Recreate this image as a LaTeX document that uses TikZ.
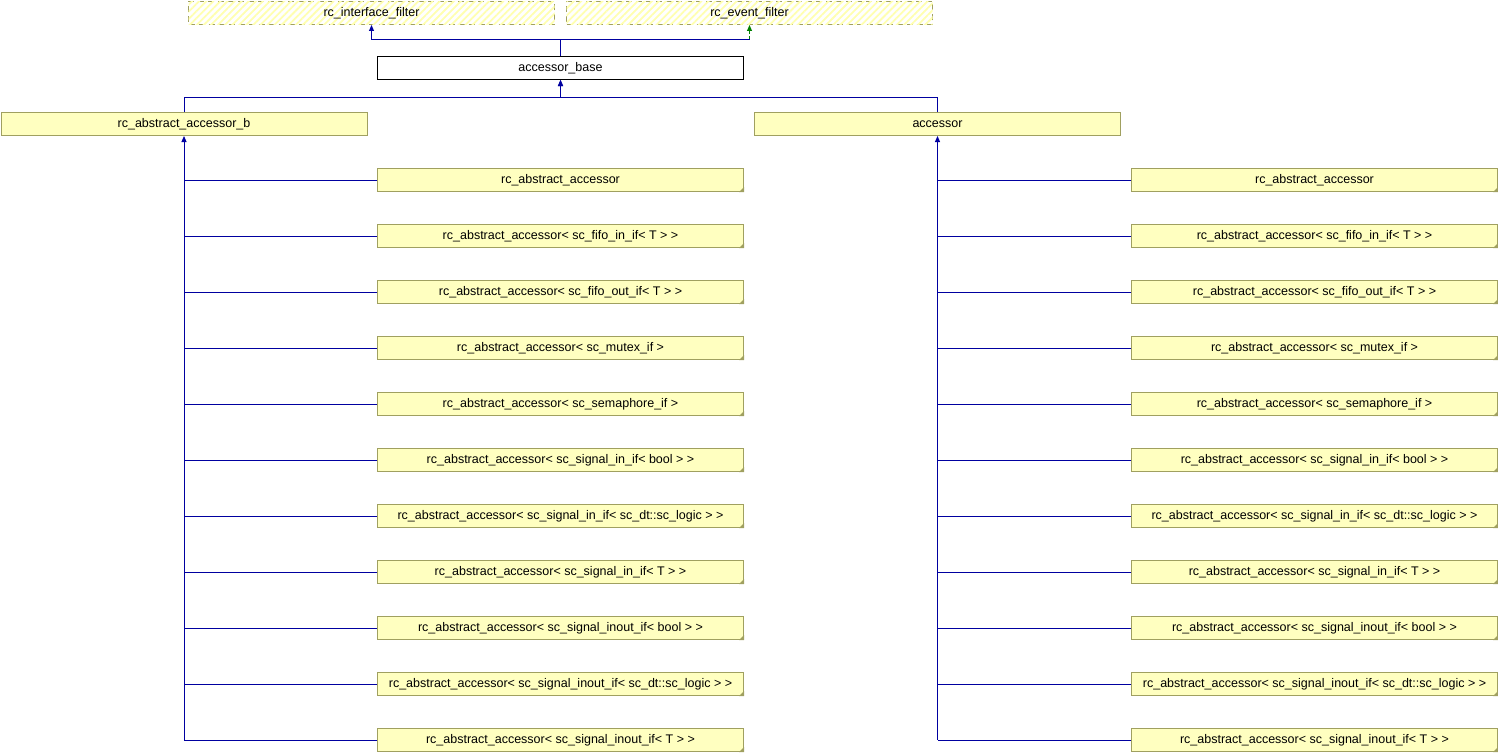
\documentclass[tikz,border=0pt]{standalone}
\usepackage{fontspec}
\setmainfont{Liberation Sans}
\usepackage{xcolor}
\usepackage{tikz}
\usetikzlibrary{arrows.meta, patterns.meta, positioning}

\definecolor{boxfill}{HTML}{FFFFC0}
\definecolor{boxline}{HTML}{A0A060}
\definecolor{edgeblue}{HTML}{0000A0}
\definecolor{edgegreen}{HTML}{008000}
\definecolor{hatchy}{HTML}{FFFFB0}

\begin{document}
\begin{tikzpicture}[
    x=1pt, y=-1pt,
    cls/.style={rectangle, draw=boxline, fill=boxfill, line width=1pt, minimum width=366pt, minimum height=23pt, anchor=north west, inner sep=0pt, font=\fontsize{12.5}{14}\selectfont},
    basebox/.style={cls, draw=black, fill=white},
    extbox/.style={cls, draw=boxline, dash pattern=on 6pt off 4pt, fill=white, postaction={pattern={Lines[angle=45, distance=5pt, line width=1.8pt]}, pattern color=hatchy}},
    inh/.style={-{Triangle[length=6pt, width=5pt]}, edgeblue, line width=1pt},
    inhline/.style={edgeblue, line width=1pt},
    uses/.style={-{Triangle[length=6pt, width=5pt]}, edgegreen, line width=1pt, dash pattern=on 3pt off 2pt}
]
\useasboundingbox (0,0) rectangle (1498,752);

% External base classes (top)
\node[extbox] (ifilt) at (188,1) {rc\_interface\_filter};
\node[extbox] (efilt) at (566,1) {rc\_event\_filter};

% Base class
\node[basebox] (base) at (377,56) {accessor\_base};

% Derived classes
\node[cls] (absb) at (0.5,112) {rc\_abstract\_accessor\_b};
\node[cls] (acc) at (754,112) {accessor};

% Template instances, one column under each derived class
\foreach \lbl [count=\i] in {
    rc\_abstract\_accessor,
    rc\_abstract\_accessor< sc\_fifo\_in\_if< T > >,
    rc\_abstract\_accessor< sc\_fifo\_out\_if< T > >,
    rc\_abstract\_accessor< sc\_mutex\_if >,
    rc\_abstract\_accessor< sc\_semaphore\_if >,
    rc\_abstract\_accessor< sc\_signal\_in\_if< bool > >,
    rc\_abstract\_accessor< sc\_signal\_in\_if< sc\_dt::sc\_logic > >,
    rc\_abstract\_accessor< sc\_signal\_in\_if< T > >,
    rc\_abstract\_accessor< sc\_signal\_inout\_if< bool > >,
    rc\_abstract\_accessor< sc\_signal\_inout\_if< sc\_dt::sc\_logic > >,
    rc\_abstract\_accessor< sc\_signal\_inout\_if< T > >}
{
    \node[cls] (lk\i) at (377,112+56*\i) {\lbl};
    \node[cls] (rk\i) at (1131,112+56*\i) {\lbl};
    \fill[boxline] (lk\i.south east) -- ([xshift=-5pt]lk\i.south east) -- ([yshift=5pt]lk\i.south east) -- cycle;
    \fill[boxline] (rk\i.south east) -- ([xshift=-5pt]rk\i.south east) -- ([yshift=5pt]rk\i.south east) -- cycle;
    \draw[inhline] (lk\i.west) -- (lk\i.west -| absb.south);
    \draw[inhline] (rk\i.west) -- (rk\i.west -| acc.south);
}

% Inheritance arrows
\coordinate (hub) at ([yshift=16pt]base.north);
\coordinate (mid) at ([yshift=-17pt]base.south);
\draw[uses] (hub) -| (efilt.south);
\draw[inhline] (hub) -- (efilt.south |- hub);
\draw[inh] (base.north) -- (hub) -| (ifilt.south);
\draw[inh] (absb.north) |- (mid) -- (base.south);
\draw[inh] (acc.north) |- (mid) -- (base.south);
\draw[inh] (lk11.west -| absb.south) -- (absb.south);
\draw[inh] (rk11.west -| acc.south) -- (acc.south);

\end{tikzpicture}
\end{document}
